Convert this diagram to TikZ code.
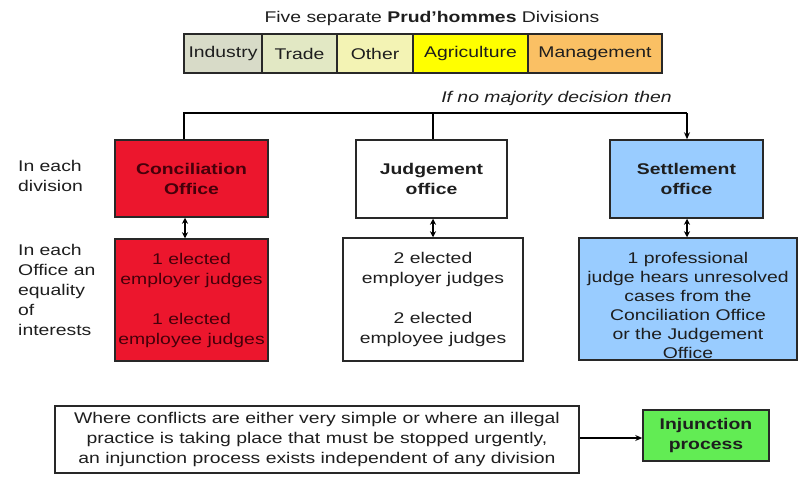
\documentclass[tikz,border=0pt]{standalone}
\usepackage{fontspec}
\setmainfont[FakeStretch=1.25]{Liberation Sans}
\usetikzlibrary{arrows.meta}
\definecolor{cind}{RGB}{216,219,200}
\definecolor{ctrade}{RGB}{226,232,196}
\definecolor{cother}{RGB}{243,243,180}
\definecolor{cagri}{RGB}{255,255,0}
\definecolor{cman}{RGB}{250,192,100}
\definecolor{cred}{RGB}{236,22,45}
\definecolor{cblue}{RGB}{153,204,255}
\definecolor{cgreen}{RGB}{98,236,84}
\definecolor{bord}{RGB}{40,40,40}
\definecolor{txt}{RGB}{30,30,30}
\definecolor{redtxt}{RGB}{70,0,10}
\newcommand\myfs{\fontsize{15.5}{20}\selectfont}
\newcommand\myfsb{\fontsize{15.5}{19}\selectfont}
\begin{document}
\begin{tikzpicture}[x=1pt,y=-1pt,
  every node/.style={font=\myfs, text=txt, inner sep=0pt},
  box/.style={draw=bord, line width=1.5pt, align=center},
  cell/.style={draw=bord, line width=1.5pt, minimum height=39pt},
  conn/.style={line width=1.8pt, draw=black},
  arrowend/.style={-{Stealth[length=7pt,width=6pt]}},
  dbl/.style={{Stealth[length=6pt,width=6pt]}-{Stealth[length=6pt,width=6pt]}}
]
\fill[white] (0,0) rectangle (798,477);
\useasboundingbox (0,0) rectangle (798,477);

% title and divisions
\node (title) at (432,18) {Five separate \textbf{Prud'hommes} Divisions};
\node[cell, fill=cind, minimum width=78pt] (ind) at (223,53.5) {Industry};
\node[cell, fill=ctrade, minimum width=75pt] (trade) at (299.5,53.5) {Trade};
\node[cell, fill=cother, minimum width=76pt] (other) at (375,53.5) {Other};
\node[cell, fill=cagri, minimum width=115pt] (agri) at (470.5,53.5) {Agriculture};
\node[cell, fill=cman, minimum width=134pt] (man) at (595,53.5) {Management};

\node[font=\myfs\itshape, anchor=east] (nomaj) at (672,98) {If no majority decision then};

% left labels
\node[anchor=west, align=left] (lab1) at (18,175.5) {In each\\division};
\node[anchor=west, align=left] (lab2) at (18,290) {In each\\Office an\\equality\\of\\interests};

% offices
\node[box, fill=cred, minimum width=153pt, minimum height=77pt, font=\myfs\bfseries, text=redtxt] (conc) at (191.5,178.5) {Conciliation\\Office};
\node[box, fill=white, minimum width=151pt, minimum height=78pt, font=\myfs\bfseries] (judge) at (431.5,179) {Judgement\\office};
\node[box, fill=cblue, minimum width=153pt, minimum height=78pt, font=\myfs\bfseries] (settle) at (686.5,179) {Settlement\\office};

% judges
\node[box, fill=cred, minimum width=153pt, minimum height=122pt, text=redtxt] (concl) at (191.5,300) {1 elected\\employer judges\\[20pt]1 elected\\employee judges};
\node[box, fill=white, minimum width=180pt, minimum height=123pt] (judgel) at (433,299.5) {2 elected\\employer judges\\[20pt]2 elected\\employee judges};
\node[box, fill=cblue, minimum width=218pt, minimum height=122pt] (settlel) at (688,299) {};
\node[align=center, font=\myfsb] (settlet) at (688,305.5) {1 professional\\judge hears unresolved\\cases from the\\Conciliation Office\\or the Judgement\\Office};

% bottom
\node[box, fill=white, minimum width=524pt, minimum height=67pt] (cond) at (317,439.5) {Where conflicts are either very simple or where an illegal\\practice is taking place that must be stopped urgently,\\an injunction process exists independent of any division};
\node[box, fill=cgreen, minimum width=126pt, minimum height=51pt, font=\myfs\bfseries] (inj) at (706,435.5) {Injunction\\process};

% connectors
\coordinate (tl) at (184,113);
\coordinate (tm) at (433,113);
\coordinate (tr) at (687,113);
\draw[conn] (conc.north -| tl) -- (tl) -- (tr);
\draw[conn] (tm) -- (judge.north -| tm);
\draw[conn, arrowend] (tl -| tr) -- (settle.north -| tr);

\coordinate (cx) at (185,0);
\draw[conn, dbl] (conc.south -| cx) -- (concl.north -| cx);
\draw[conn, dbl] (judge.south -| tm) -- (judgel.north -| tm);
\draw[conn, dbl] (settle.south -| tr) -- (settlel.north -| tr);

\coordinate (by) at (0,438);
\draw[conn, arrowend] (cond.east |- by) -- (inj.west |- by);
\end{tikzpicture}
\end{document}
